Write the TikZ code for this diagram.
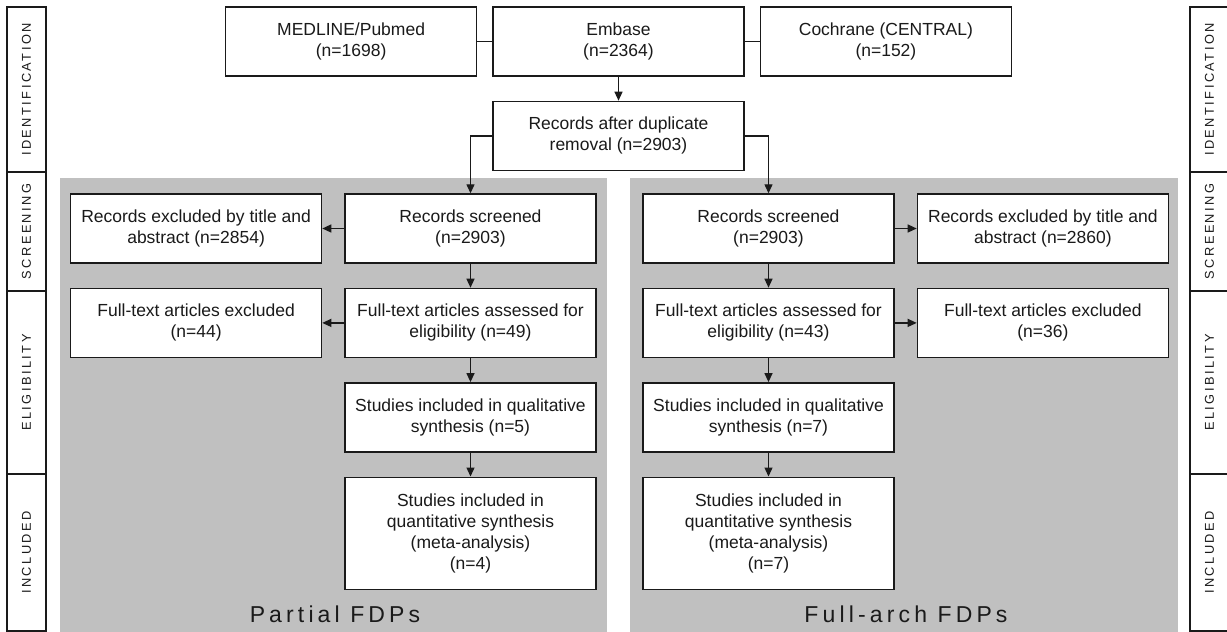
\documentclass[tikz,border=0pt]{standalone}
\usepackage{fontspec}
\setmainfont{Liberation Sans}
\newfontfamily\trackfont[LetterSpace=19]{Liberation Sans}
\newfontfamily\titlefont[LetterSpace=18]{Liberation Sans}
\usetikzlibrary{positioning,arrows.meta}
\definecolor{pline}{HTML}{1A1A1A}
\definecolor{pgray}{HTML}{C0C0C0}
\tikzset{
  box/.style    = {draw=pline, fill=white, line width=1.4pt, minimum width=251pt,
                   minimum height=69pt, align=center, inner sep=2pt, text=pline,
                   font=\fontsize{17.5}{21}\selectfont},
  qbox/.style   = {box, minimum height=112pt},
  stage/.style  = {draw=pline, fill=white, line width=1.4pt, rotate=90,
                   minimum height=39pt, inner sep=0pt, text=pline,
                   font=\trackfont\fontsize{12.8}{14}\selectfont},
  ptitle/.style = {anchor=base, inner sep=0pt, text=pline,
                   font=\titlefont\fontsize{23}{26}\selectfont},
  a/.style      = {-{Triangle[length=9pt,width=8pt]}, line width=1.3pt, draw=pline},
  l/.style      = {line width=1.3pt, draw=pline},
  node distance = 24pt and 22pt,
}

\begin{document}
\begin{tikzpicture}[x=1pt,y=-1pt]
\useasboundingbox (0,0) rectangle (1227,632);

% ---- grey bands behind the two arms
\fill[pgray] (60,178) rectangle (607,632);
\fill[pgray] (630,178) rectangle (1178,632);

% ---- stage bars, left and right
\node[stage, minimum width=165pt] (id1) at (26.5,89.5)  {IDENTIFICATION};
\node[stage, minimum width=119pt] (sc1) at (26.5,231.5) {SCREENING};
\node[stage, minimum width=183pt] (el1) at (26.5,382.5) {ELIGIBILITY};
\node[stage, minimum width=157pt] (in1) at (26.5,552.5) {INCLUDED};
\node[stage, minimum width=165pt] (id2) at (1209.5,89.5)  {IDENTIFICATION};
\node[stage, minimum width=119pt] (sc2) at (1209.5,231.5) {SCREENING};
\node[stage, minimum width=183pt] (el2) at (1209.5,382.5) {ELIGIBILITY};
\node[stage, minimum width=157pt] (in2) at (1209.5,552.5) {INCLUDED};

% ---- sources
\node[box]                  (emb)  at (618.5,41.5) {Embase\\(n=2364)};
\node[box, left=15pt of emb]  (med)  {MEDLINE/Pubmed\\(n=1698)};
\node[box, right=15pt of emb] (coch) {Cochrane (CENTRAL)\\(n=152)};
\node[box, below=of emb]    (dup)  {Records after duplicate\\removal (n=2903)};

% ---- partial arm
\node[box] (scrL) at (470.5,228.5) {Records screened\\(n=2903)};
\node[box,  left=of scrL]   (exL)   {Records excluded by title and\\abstract (n=2854)};
\node[box,  below=of scrL]  (assL)  {Full-text articles assessed for\\eligibility (n=49)};
\node[box,  left=of assL]   (ftL)   {Full-text articles excluded\\(n=44)};
\node[box,  below=of assL]  (qualL) {Studies included in qualitative\\synthesis (n=5)};
\node[qbox, below=of qualL] (quanL) {Studies included in\\quantitative synthesis\\(meta-analysis)\\(n=4)};

% ---- full-arch arm
\node[box] (scrR) at (768.5,228.5) {Records screened\\(n=2903)};
\node[box,  right=of scrR]  (exR)   {Records excluded by title and\\abstract (n=2860)};
\node[box,  below=of scrR]  (assR)  {Full-text articles assessed for\\eligibility (n=43)};
\node[box,  right=of assR]  (ftR)   {Full-text articles excluded\\(n=36)};
\node[box,  below=of assR]  (qualR) {Studies included in qualitative\\synthesis (n=7)};
\node[qbox, below=of qualR] (quanR) {Studies included in\\quantitative synthesis\\(meta-analysis)\\(n=7)};

% ---- arm titles
\node[ptitle] (tL) at (335,622) {Partial FDPs};
\node[ptitle] (tR) at (906,622) {Full-arch FDPs};

% ---- flow
\draw[l] (med) -- (emb);
\draw[l] (emb) -- (coch);
\draw[a] (emb) -- (dup);
\draw[a] (dup.west) -| (scrL);
\draw[a] (dup.east) -| (scrR);
\draw[a] (scrL)  -- (exL);
\draw[a] (scrL)  -- (assL);
\draw[a] (assL)  -- (ftL);
\draw[a] (assL)  -- (qualL);
\draw[a] (qualL) -- (quanL);
\draw[a] (scrR)  -- (exR);
\draw[a] (scrR)  -- (assR);
\draw[a] (assR)  -- (ftR);
\draw[a] (assR)  -- (qualR);
\draw[a] (qualR) -- (quanR);

\end{tikzpicture}
\end{document}
